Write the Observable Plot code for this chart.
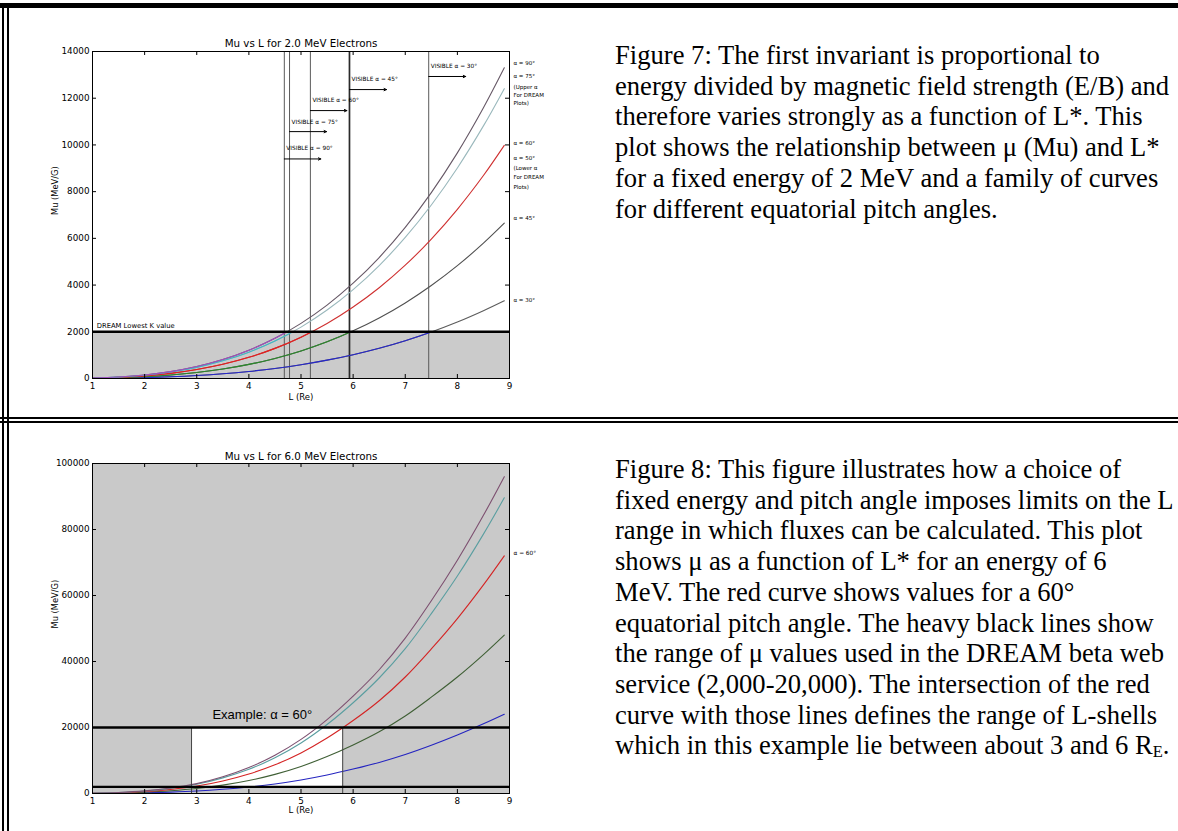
<!DOCTYPE html>
<html><head><meta charset="utf-8">
<script src="https://cdn.jsdelivr.net/npm/d3@7"></script>
<script src="https://cdn.jsdelivr.net/npm/@observablehq/plot@0.6"></script>
<style>
html,body{margin:0;padding:0;background:#fff;}
#page{position:relative;width:1178px;height:831px;overflow:hidden;background:#fff;}
.b{position:absolute;background:#000;}
.cap{position:absolute;left:615px;font-family:"Liberation Serif","Times New Roman",serif;font-size:26.6px;line-height:30.7px;color:#000;white-space:nowrap;}
.chart{position:absolute;left:0;width:600px;}
sub{font-size:0.62em;vertical-align:-0.18em;line-height:0;}
</style></head><body>
<div id="page">
  <div class="b" style="left:0;top:3px;width:1178px;height:5px"></div>
  <div class="b" style="left:2px;top:3px;width:2px;height:828px"></div>
  <div class="b" style="left:7px;top:3px;width:2px;height:828px"></div>
  <div class="b" style="left:0;top:417px;width:1178px;height:2px"></div>
  <div class="b" style="left:0;top:421px;width:1178px;height:2px"></div>
  <div id="c1" class="chart" style="top:0"></div>
  <div id="c2" class="chart" style="top:418px"></div>
  <div class="cap" style="top:40px">Figure 7: The first invariant is proportional to<br>energy divided by magnetic field strength (E/B) and<br>therefore varies strongly as a function of L*. This<br>plot shows the relationship between μ (Mu) and L*<br>for a fixed energy of 2 MeV and a family of curves<br>for different equatorial pitch angles.</div>
  <div class="cap" style="top:454px">Figure 8: This figure illustrates how a choice of<br>fixed energy and pitch angle imposes limits on the L<br>range in which fluxes can be calculated. This plot<br>shows μ as a function of L* for an energy of 6<br>MeV. The red curve shows values for a 60°<br>equatorial pitch angle. The heavy black lines show<br>the range of μ values used in the DREAM beta web<br>service (2,000-20,000). The intersection of the red<br>curve with those lines defines the range of L-shells<br>which in this example lie between about 3 and 6 R<sub>E</sub>.</div>
</div>
<script>
// ---------- data ----------
const L = [1, 1.5, 2, 2.5, 3, 3.5, 4, 4.5, 5, 5.5, 6, 6.5, 7, 7.5, 8, 8.5, 8.9];
const angles = [30, 45, 60, 75, 90];

// Figure 7: 2.0 MeV
const mu2_30 = [5, 16, 38, 74, 127, 202, 302, 430, 590, 785, 1020, 1295, 1620, 1990, 2415, 2900, 3325];
const mu2_45 = [9, 32, 75, 147, 255, 405, 604, 860, 1180, 1570, 2040, 2590, 3235, 3980, 4830, 5795, 6650];
const mu2_60 = [14, 48, 113, 221, 382, 607, 906, 1290, 1770, 2355, 3060, 3885, 4850, 5970, 7245, 8690, 9980];
const mu2_75 = [18, 60, 141, 275, 476, 756, 1128, 1605, 2200, 2930, 3805, 4835, 6040, 7430, 9015, 10815, 12410];
const mu2_90 = [19, 64, 151, 295, 510, 810, 1210, 1720, 2360, 3140, 4080, 5180, 6470, 7960, 9660, 11590, 13300];

// Figure 8: 6.0 MeV
const mu6_30 = [20, 77, 200, 420, 750, 1270, 1970, 2900, 4100, 5600, 7400, 9400, 11800, 14600, 17700, 21100, 24000];
const mu6_45 = [40, 150, 400, 830, 1500, 2530, 3930, 5800, 8200, 11200, 14700, 18700, 23500, 29200, 35300, 42100, 48000];
const mu6_60 = [60, 230, 600, 1250, 2250, 3800, 5900, 8700, 12300, 16800, 22100, 28100, 35300, 43800, 53000, 63200, 72000];
const mu6_75 = [75, 285, 745, 1560, 2800, 4730, 7340, 10800, 15300, 20900, 27500, 35000, 43900, 54500, 65900, 78600, 89600];
const mu6_90 = [80, 310, 800, 1670, 3000, 5070, 7870, 11600, 16400, 22400, 29500, 37500, 47100, 58400, 70700, 84300, 96000];

const xTicks = [1, 2, 3, 4, 5, 6, 7, 8, 9];
const yTicks2 = [0, 2000, 4000, 6000, 8000, 10000, 12000, 14000];
const yTicks6 = [0, 20000, 40000, 60000, 80000, 100000];

// Figure 7 annotations
const muLowest = 2000;
const visibleAngles = [90, 75, 60, 45, 30];
const visibleL = [4.68, 4.78, 5.18, 5.93, 7.45];
const arrowEndL = [5.38, 5.49, 5.88, 6.64, 8.16];
const arrowMu = [9400, 10570, 11470, 12370, 12930];
const visibleTextMu = [9850, 10960, 11900, 12800, 13360];
const rightLabels2 = ["α = 90°", "α = 75°", "(Upper α", "For DREAM", "Plots)", "α = 60°", "α = 50°", "(Lower α", "For DREAM", "Plots)", "α = 45°", "α = 30°"];
const rightLabels2Mu = [13480, 12930, 12460, 12110, 11770, 10060, 9420, 8990, 8600, 8180, 6850, 3340];

// Figure 8 annotations
const muRange = [2000, 20000];
const exampleL = [2.9, 5.8];
const exampleText = "Example: α = 60°";
const exampleAt = {L: 3.3, mu: 23900};
const rightLabel6 = "α = 60°";
const rightLabel6Mu = 72700;

// ---------- styles ----------
const lowColor = {30: "#2626cc", 45: "#2a8a2a", 60: "#dd2222", 75: "#3fb6c4", 90: "#a14fbf"};
const highColor = {30: "#5c5c5c", 45: "#505050", 60: "#cf3030", 75: "#9ab8bc", 90: "#665866"};
const color6 = {30: "#2424c0", 45: "#3f5f35", 60: "#d42424", 75: "#5a9ea0", 90: "#7d5070"};

const rows = (arr) => L.map((l, i) => ({L: l, mu: arr[i]}));
const series2 = {30: rows(mu2_30), 45: rows(mu2_45), 60: rows(mu2_60), 75: rows(mu2_75), 90: rows(mu2_90)};
const series6 = {30: rows(mu6_30), 45: rows(mu6_45), 60: rows(mu6_60), 75: rows(mu6_75), 90: rows(mu6_90)};

const W = 600;
const mL = 92, mR = 91;
const font = "DejaVu Sans, sans-serif";

function frameAndTicks(yTicks, plotW, plotH) {
  return [
    Plot.frame({stroke: "#000", strokeWidth: 1}),
    Plot.ruleX(xTicks, {x: d => d, insetTop: plotH - 4, stroke: "#000"}),
    Plot.ruleX(xTicks, {x: d => d, insetBottom: plotH - 4, stroke: "#000"}),
    Plot.ruleY(yTicks, {y: d => d, insetRight: plotW - 4, stroke: "#000"}),
    Plot.ruleY(yTicks, {y: d => d, insetLeft: plotW - 4, stroke: "#000"}),
    Plot.axisX(xTicks, {tickSize: 0, tickPadding: 4, tickFormat: d => String(d), label: null, fontSize: 8.8}),
    Plot.axisY(yTicks, {tickSize: 0, tickPadding: 3, tickFormat: d => String(d), label: null, fontSize: 8.8})
  ];
}

// ---------- Figure 7 chart ----------
{
  const H = 418, mT = 51, mB = 40;
  const plotW = W - mL - mR, plotH = H - mT - mB;
  const marks = [
    Plot.rect([0], {x1: () => xTicks[0], x2: () => xTicks[xTicks.length - 1], y1: () => 0, y2: () => muLowest, fill: "#cbcbcb"}),
    Plot.ruleX(visibleL, {x: d => d, stroke: d => (d === 5.93 ? "#2a2a2a" : "#5a5a5a"), strokeWidth: d => (d === 5.93 ? 1.7 : 1)}),
  ];
  for (const a of angles) marks.push(Plot.line(series2[a], {x: "L", y: "mu", stroke: highColor[a], strokeWidth: 1.1, curve: "catmull-rom"}));
  for (const a of angles) marks.push(Plot.line(series2[a], {x: "L", y: "mu", stroke: lowColor[a], strokeWidth: 1.1, curve: "catmull-rom"}));
  marks.push(
    Plot.ruleY([muLowest], {y: d => d, stroke: "#000", strokeWidth: 2.4}),
    Plot.text(["DREAM Lowest K value"], {x: () => 1.08, y: () => 2270, text: d => d, textAnchor: "start", fontSize: 6.8}),
    Plot.arrow(visibleAngles, {x1: (d, i) => visibleL[i], x2: (d, i) => arrowEndL[i], y1: (d, i) => arrowMu[i], y2: (d, i) => arrowMu[i], stroke: "#000", strokeWidth: 1, headLength: 4, headAngle: 50}),
    Plot.text(visibleAngles, {x: (d, i) => visibleL[i], y: (d, i) => visibleTextMu[i], text: d => `VISIBLE α = ${d}°`, textAnchor: "start", dx: 2, fontSize: 5.8}),
    Plot.text(rightLabels2, {x: () => 9, y: (d, i) => rightLabels2Mu[i], text: d => d, textAnchor: "start", dx: 4, fontSize: 5.5}),
    ...frameAndTicks(yTicks2, plotW, plotH),
    Plot.text(["Mu vs L for 2.0 MeV Electrons"], {frameAnchor: "top", lineAnchor: "middle", dy: -8, text: d => d, fontSize: 10.3}),
    Plot.text(["L (Re)"], {frameAnchor: "bottom", lineAnchor: "middle", dy: 19, text: d => d, fontSize: 8.5}),
    Plot.text(["Mu (MeV/G)"], {frameAnchor: "left", lineAnchor: "middle", dx: -37, rotate: -90, text: d => d, fontSize: 8.3})
  );
  const p = Plot.plot({
    width: W, height: H, marginLeft: mL, marginRight: mR, marginTop: mT, marginBottom: mB,
    x: {domain: [1, 9]}, y: {domain: [0, 14000]},
    style: {fontFamily: font, fontSize: "8.8px", background: "transparent", color: "#000"},
    marks
  });
  // clip the coloured (lower) copies of the curves to the shaded band below the DREAM line
  const ys = p.scale("y"), xs = p.scale("x");
  const svg = d3.select(p);
  svg.append("defs").append("clipPath").attr("id", "lowclip1").append("rect")
    .attr("x", xs.apply(1) - 2).attr("width", xs.apply(9) - xs.apply(1) + 4)
    .attr("y", ys.apply(muLowest)).attr("height", ys.apply(0) - ys.apply(muLowest) + 3);
  const lowSet = new Set(Object.values(lowColor).map(c => c.toLowerCase()));
  svg.selectAll("g").filter(function () { const s = this.getAttribute("stroke"); return s && lowSet.has(s.toLowerCase()) && this.querySelector("path"); })
    .attr("clip-path", "url(#lowclip1)");
  document.getElementById("c1").appendChild(p);
}

// ---------- Figure 8 chart ----------
{
  const H = 413, mT = 45, mB = 38;
  const plotW = W - mL - mR, plotH = H - mT - mB;
  const marks = [
    Plot.frame({fill: "#c9c9c9"}),
    Plot.rect([0], {x1: () => exampleL[0], x2: () => exampleL[1], y1: () => muRange[0], y2: () => muRange[1], fill: "#ffffff"}),
  ];
  for (const a of angles) marks.push(Plot.line(series6[a], {x: "L", y: "mu", stroke: color6[a], strokeWidth: 1.1, curve: "catmull-rom"}));
  marks.push(
    Plot.ruleX(exampleL, {x: d => d, y1: 0, y2: muRange[1], stroke: "#444", strokeWidth: 1}),
    Plot.ruleY(muRange, {y: d => d, stroke: "#000", strokeWidth: 2.4}),
    Plot.text([exampleText], {x: () => exampleAt.L, y: () => exampleAt.mu, text: d => d, textAnchor: "start", fontSize: 13, fontFamily: "Liberation Sans, Arial, sans-serif"}),
    Plot.text([rightLabel6], {x: () => 9, y: () => rightLabel6Mu, text: d => d, textAnchor: "start", dx: 4, fontSize: 5.8}),
    ...frameAndTicks(yTicks6, plotW, plotH),
    Plot.text(["Mu vs L for 6.0 MeV Electrons"], {frameAnchor: "top", lineAnchor: "middle", dy: -7, text: d => d, fontSize: 10.3}),
    Plot.text(["L (Re)"], {frameAnchor: "bottom", lineAnchor: "middle", dy: 17, text: d => d, fontSize: 8.5}),
    Plot.text(["Mu (MeV/G)"], {frameAnchor: "left", lineAnchor: "middle", dx: -37, rotate: -90, text: d => d, fontSize: 8.3})
  );
  const p = Plot.plot({
    width: W, height: H, marginLeft: mL, marginRight: mR, marginTop: mT, marginBottom: mB,
    x: {domain: [1, 9]}, y: {domain: [0, 100000]},
    style: {fontFamily: font, fontSize: "8.8px", background: "transparent", color: "#000"},
    marks
  });
  document.getElementById("c2").appendChild(p);
}
</script>
</body></html>
